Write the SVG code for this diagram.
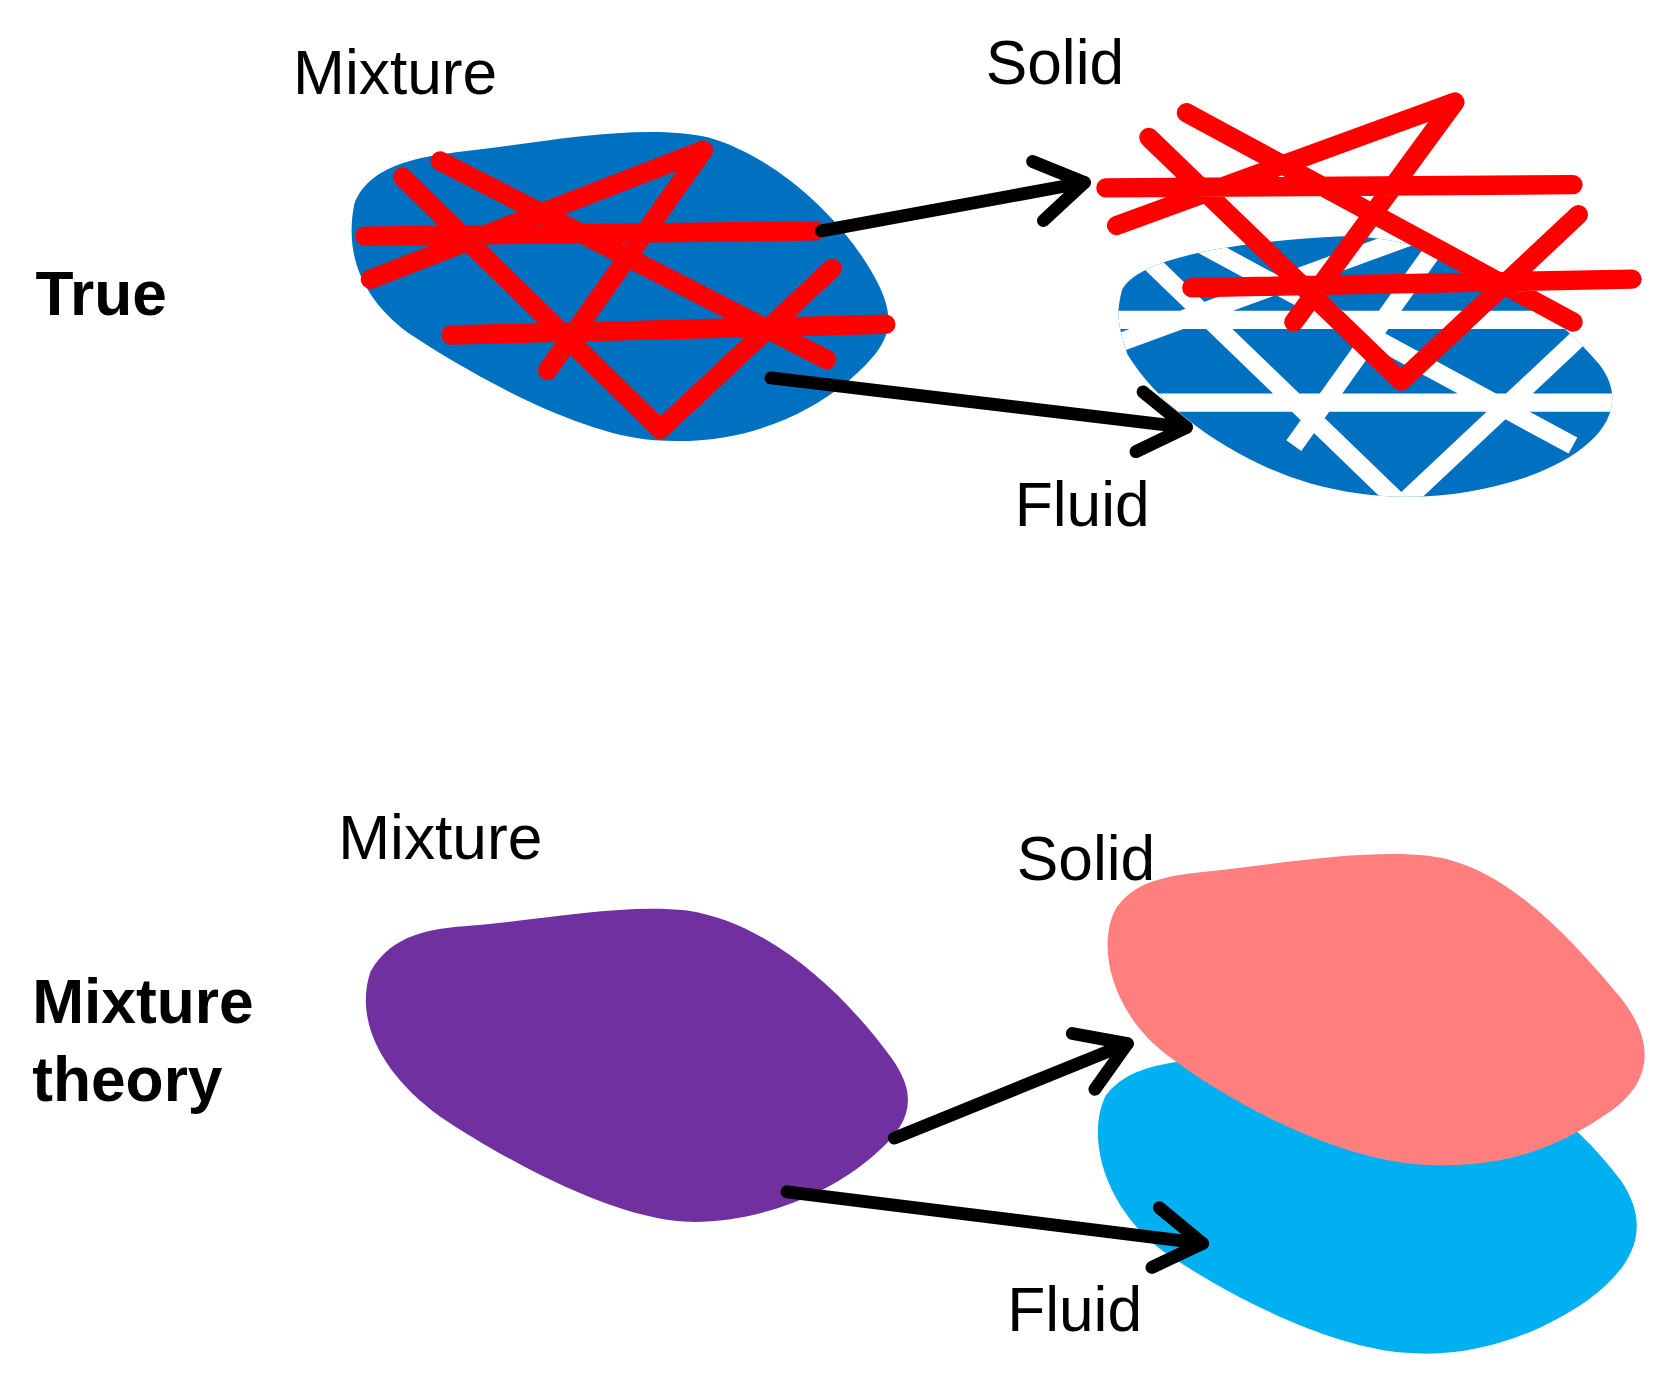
<svg xmlns="http://www.w3.org/2000/svg" width="1675" height="1377" viewBox="0 0 1675 1377">
<style>
.t{font-family:"Liberation Sans",Arial,sans-serif;font-size:58px;fill:#000}
.b{font-weight:bold}
.red{stroke:#FF0000;stroke-width:18;fill:none;stroke-linecap:round;stroke-linejoin:round}
.wht{stroke:#FFFFFF;stroke-width:17;fill:none}
.arr{stroke:#000;stroke-width:12;fill:none;stroke-linecap:round;marker-end:url(#ah)}
</style>
<defs>
<marker id="ah" markerUnits="userSpaceOnUse" viewBox="-55 -40 65 80" refX="0" refY="0" markerWidth="65" markerHeight="80" orient="auto">
<path d="M-44,-28 L0,0 L-44,28" fill="none" stroke="#000" stroke-width="12" stroke-linecap="round" stroke-linejoin="round"/>
</marker>
<clipPath id="fc"><path d="M1045,270 C1060,240 1150,225 1250,220 C1350,220 1440,280 1490,340 C1520,380 1490,420 1420,445 C1360,465 1290,470 1220,450 C1150,430 1080,380 1050,330 C1040,300 1040,290 1045,270 Z"/></clipPath>
</defs>
<rect width="1675" height="1377" fill="#fff"/>
<g transform="scale(1.0737)">
<g id="true-mixture">
<path d="M330,190 C345,150 400,145 440,140 C520,130 600,115 660,128 C720,145 780,200 810,250 C840,300 830,320 790,355 C740,395 680,415 610,410 C540,405 440,350 380,310 C340,280 320,240 330,190 Z" fill="#0070C0"/>
<path class="red" d="M340,220 L760,215 M345,260 L655,140 L510,345 M410,150 L770,335 M375,165 L615,400 L775,250 M420,312 L825,302"/>
</g>
<g id="true-fluid">
<path d="M1045,270 C1060,240 1150,225 1250,220 C1350,220 1440,280 1490,340 C1520,380 1490,420 1420,445 C1360,465 1290,470 1220,450 C1150,430 1080,380 1050,330 C1040,300 1040,290 1045,270 Z" fill="#0070C0"/>
<g clip-path="url(#fc)">
<path class="wht" d="M1040,320 L1355,205 L1205,415 M1105,220 L1465,415 M1070,243 L1305,470 L1470,315 M1030,298 L1510,298 M1040,375 L1520,375"/>
</g>
</g>
<g id="true-solid">
<path class="red" d="M1040,210 L1355,95 L1205,300 M1105,105 L1465,300 M1070,128 L1305,355 L1470,200 M1030,175 L1465,172 M1110,268 L1520,260"/>
</g>
<g id="mt-mixture">
<path d="M345,905 C365,870 400,865 440,862 C520,855 580,842 640,848 C720,860 790,930 830,985 C855,1020 850,1045 815,1075 C770,1115 700,1140 640,1138 C570,1135 470,1080 410,1040 C355,1000 330,950 345,905 Z" fill="#7030A0"/>
</g>
<g id="mt-fluid">
<path d="M1030,1020 C1050,995 1080,990 1130,985 C1220,978 1300,975 1360,990 C1430,1010 1480,1060 1510,1100 C1540,1145 1520,1180 1480,1210 C1430,1245 1370,1265 1310,1260 C1240,1255 1150,1210 1090,1170 C1030,1130 1010,1060 1030,1020 Z" fill="#00B0F0"/>
</g>
<g id="mt-solid">
<path d="M1040,845 C1060,818 1090,815 1140,810 C1220,800 1280,792 1330,797 C1400,805 1460,870 1510,930 C1545,975 1535,1010 1500,1035 C1450,1070 1400,1088 1330,1085 C1250,1082 1150,1030 1090,985 C1035,945 1020,880 1040,845 Z" fill="#FF7F7F"/>
</g>
<g id="connectors">
<path class="arr" d="M765,215 L1010,170"/>
<path class="arr" d="M718,352 L1105,398"/>
<path class="arr" d="M833,1060 L1050,972"/>
<path class="arr" d="M733,1110 L1120,1158"/>
</g>
<g id="labels">
<text class="t" x="273" y="88">Mixture</text>
<text class="t" x="918" y="78">Solid</text>
<text class="t b" x="33" y="293">True</text>
<text class="t" x="945" y="490">Fluid</text>
<text class="t" x="315" y="800">Mixture</text>
<text class="t" x="947" y="820">Solid</text>
<text class="t b" x="30" y="953">Mixture</text>
<text class="t b" x="30" y="1025">theory</text>
<text class="t" x="938" y="1240">Fluid</text>
</g>
</g>
</svg>
